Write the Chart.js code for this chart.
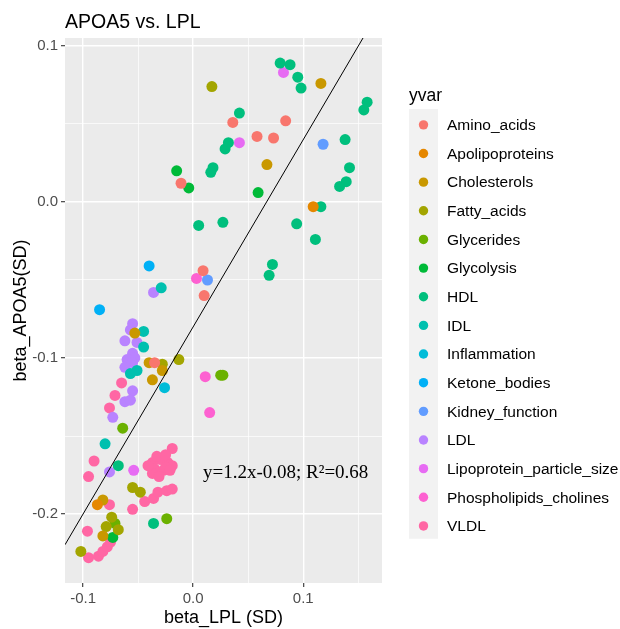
<!DOCTYPE html>
<html>
<head>
<meta charset="utf-8">
<script src="https://cdn.jsdelivr.net/npm/chart.js@4"></script>
<style>
  html, body { margin: 0; padding: 0; background: #FFFFFF; }
  canvas { display: block; }
</style>
</head>
<body>
<canvas id="chart" width="620" height="629"></canvas>
<script>
const TITLE = 'APOA5 vs. LPL';
const X_LABEL = 'beta_LPL (SD)';
const Y_LABEL = 'beta_APOA5(SD)';
const LEGEND_TITLE = 'yvar';
const FIT_TEXT = 'y=1.2x-0.08; R²=0.68';
const FIT_SLOPE = 1.2;
const FIT_INTERCEPT = -0.08;
const FIT_LABEL_AT = [0.084, -0.174]; // where the equation sits, in data units

const X_RANGE = [-0.1164, 0.1715];
const Y_RANGE = [-0.2442, 0.1051];
const X_BREAKS = [-0.1, 0.0, 0.1];
const X_MINOR = [-0.05, 0.05, 0.15];
const Y_BREAKS = [-0.2, -0.1, 0.0, 0.1];
const Y_MINOR = [-0.15, -0.05, 0.05];

const CATEGORIES = ['Amino_acids', 'Apolipoproteins', 'Cholesterols', 'Fatty_acids', 'Glycerides',
  'Glycolysis', 'HDL', 'IDL', 'Inflammation', 'Ketone_bodies', 'Kidney_function', 'LDL',
  'Lipoprotein_particle_size', 'Phospholipids_cholines', 'VLDL'];
// ggplot default hue palette for 15 levels
const COLORS = ['#F8766D', '#E58700', '#C99800', '#A3A500', '#6BB100', '#00BA38', '#00BF7D', '#00C0AF',
  '#00BCD8', '#00B0F6', '#619CFF', '#B983FF', '#E76BF3', '#FD61D1', '#FF67A4'];

// [beta_LPL, beta_APOA5] pairs per group
const AMINO_ACIDS = [[0.036, 0.051], [0.084, 0.052], [0.058, 0.042], [0.073, 0.041], [-0.011, 0.012],
  [0.009, -0.044], [0.010, -0.060], [-0.035, -0.103]];
const APOLIPOPROTEINS = [[0.109, -0.003], [-0.087, -0.194]];
const CHOLESTEROLS = [[0.116, 0.076], [0.067, 0.024], [-0.053, -0.084], [-0.040, -0.103], [-0.028, -0.108],
  [-0.037, -0.114], [-0.082, -0.191], [-0.082, -0.214]];
const FATTY_ACIDS = [[0.017, 0.074], [-0.028, -0.104], [-0.013, -0.101], [-0.055, -0.183], [-0.048, -0.186],
  [-0.102, -0.224], [-0.074, -0.202], [-0.079, -0.208], [-0.068, -0.210]];
const GLYCERIDES = [[0.025, -0.111], [0.027, -0.111], [-0.064, -0.145], [-0.024, -0.203], [-0.071, -0.206]];
const GLYCOLYSIS = [[-0.015, 0.020], [-0.004, 0.009], [0.059, 0.006], [-0.073, -0.215]];
const HDL = [[0.079, 0.089], [0.088, 0.088], [0.095, 0.080], [0.098, 0.073], [0.158, 0.064], [0.155, 0.059],
  [0.042, 0.057], [0.032, 0.038], [0.029, 0.034], [0.138, 0.040], [0.142, 0.022], [0.139, 0.013],
  [0.133, 0.010], [0.018, 0.022], [0.016, 0.019], [0.116, -0.003], [0.005, -0.015], [0.027, -0.013],
  [0.094, -0.014], [0.111, -0.024], [0.072, -0.040], [0.069, -0.047], [-0.068, -0.169], [-0.036, -0.206]];
const IDL = [[-0.029, -0.055], [-0.045, -0.083], [-0.045, -0.093], [-0.057, -0.110], [-0.051, -0.108],
  [-0.080, -0.155]];
const INFLAMMATION = [[-0.026, -0.119]];
const KETONE_BODIES = [[-0.040, -0.041], [-0.085, -0.069]];
const KIDNEY_FUNCTION = [[0.118, 0.037], [0.013, -0.050]];
const LDL = [[-0.036, -0.058], [-0.055, -0.078], [-0.057, -0.082], [-0.062, -0.089], [-0.051, -0.090],
  [-0.055, -0.097], [-0.053, -0.100], [-0.060, -0.101], [-0.055, -0.103], [-0.062, -0.106],
  [-0.055, -0.121], [-0.062, -0.128], [-0.057, -0.127], [-0.073, -0.138], [-0.076, -0.173]];
const LIPOPROTEIN_PARTICLE_SIZE = [[0.082, 0.083], [0.042, 0.038], [-0.054, -0.172]];
const PHOSPHOLIPIDS_CHOLINES = [[0.003, -0.049], [0.011, -0.112], [0.015, -0.135]];
const VLDL = [[-0.065, -0.116], [-0.071, -0.124], [-0.076, -0.132], [-0.090, -0.166], [-0.095, -0.176],
  [-0.019, -0.158], [-0.037, -0.167], [-0.030, -0.165], [-0.023, -0.167], [-0.019, -0.169],
  [-0.035, -0.171], [-0.027, -0.172], [-0.037, -0.174], [-0.025, -0.170], [-0.033, -0.163],
  [-0.025, -0.162], [-0.041, -0.169], [-0.031, -0.176], [-0.021, -0.172], [-0.044, -0.192],
  [-0.036, -0.190], [-0.032, -0.186], [-0.024, -0.185], [-0.019, -0.184], [-0.055, -0.197],
  [-0.076, -0.194], [-0.096, -0.211], [-0.095, -0.228], [-0.086, -0.227], [-0.082, -0.224],
  [-0.078, -0.221], [-0.075, -0.218]];

const SERIES = [AMINO_ACIDS, APOLIPOPROTEINS, CHOLESTEROLS, FATTY_ACIDS, GLYCERIDES, GLYCOLYSIS, HDL, IDL,
  INFLAMMATION, KETONE_BODIES, KIDNEY_FUNCTION, LDL, LIPOPROTEIN_PARTICLE_SIZE, PHOSPHOLIPIDS_CHOLINES, VLDL];

const SANS = '"Liberation Sans", Arial, sans-serif';

function isMajor(v, breaks) {
  return breaks.some(b => Math.abs(b - v) < 1e-9);
}

function axisOptions(range, breaks, minor, fitSize) {
  const all = breaks.concat(minor).sort((a, b) => a - b);
  return {
    type: 'linear',
    min: range[0],
    max: range[1],
    afterBuildTicks: (scale) => { scale.ticks = all.map(v => ({ value: v })); },
    afterFit: fitSize,
    border: { display: false },
    grid: {
      color: '#FFFFFF',
      lineWidth: (ctx) => isMajor(ctx.tick.value, breaks) ? 1.4 : 0.7,
      drawTicks: true,
      tickLength: 4,
      tickWidth: 1.1,
      tickColor: (ctx) => isMajor(ctx.tick.value, breaks) ? '#333333' : 'rgba(0,0,0,0)'
    },
    ticks: {
      autoSkip: false,
      maxRotation: 0,
      color: '#4D4D4D',
      font: { family: SANS, size: 15 },
      callback: (v) => isMajor(v, breaks) ? v.toFixed(1) : ''
    }
  };
}

const panelAndLegend = {
  id: 'panelAndLegend',
  beforeDraw(chart) {
    const { ctx, chartArea: a } = chart;
    ctx.save();
    ctx.fillStyle = '#EBEBEB';
    ctx.fillRect(a.left, a.top, a.right - a.left, a.bottom - a.top);
    ctx.restore();
  },
  afterDraw(chart) {
    const { ctx, chartArea: a, scales } = chart;
    ctx.save();

    // plot title
    ctx.fillStyle = '#000000';
    ctx.font = '19.5px ' + SANS;
    ctx.textAlign = 'left';
    ctx.textBaseline = 'alphabetic';
    ctx.fillText(TITLE, a.left, 28);

    // fitted line equation
    ctx.font = '19px "Liberation Serif", "Times New Roman", serif';
    ctx.textAlign = 'center';
    ctx.textBaseline = 'middle';
    ctx.fillText(FIT_TEXT, scales.x.getPixelForValue(FIT_LABEL_AT[0]), scales.y.getPixelForValue(FIT_LABEL_AT[1]));

    // legend
    const keyX = a.right + 27;
    const keyW = 29;
    const keyH = 28.65;
    const top = 109;
    ctx.textAlign = 'left';
    ctx.textBaseline = 'alphabetic';
    ctx.font = '17.5px ' + SANS;
    ctx.fillText(LEGEND_TITLE, keyX, 101);
    ctx.fillStyle = '#F2F2F2';
    ctx.fillRect(keyX, top, keyW, keyH * CATEGORIES.length);
    ctx.font = '15.5px ' + SANS;
    ctx.textBaseline = 'middle';
    CATEGORIES.forEach((name, i) => {
      const cy = top + keyH * (i + 0.5) + 1.5;
      ctx.fillStyle = COLORS[i];
      ctx.beginPath();
      ctx.arc(keyX + keyW / 2, cy, 4.7, 0, Math.PI * 2);
      ctx.fill();
      ctx.fillStyle = '#000000';
      ctx.fillText(name, keyX + 38, cy + 1);
    });
    ctx.restore();
  }
};

const fitLine = {
  type: 'line',
  label: 'fit',
  data: X_RANGE.map(x => ({ x, y: FIT_SLOPE * x + FIT_INTERCEPT })),
  borderColor: '#000000',
  borderWidth: 1,
  pointRadius: 0,
  fill: false
};

const pointSets = CATEGORIES.map((name, i) => ({
  type: 'scatter',
  label: name,
  data: SERIES[i].map(p => ({ x: p[0], y: p[1] })),
  backgroundColor: COLORS[i],
  borderWidth: 0,
  pointRadius: 5.5,
  pointHoverRadius: 5.5
}));

new Chart(document.getElementById('chart'), {
  type: 'scatter',
  data: { datasets: [fitLine].concat(pointSets) },
  options: {
    responsive: false,
    animation: false,
    layout: { padding: { top: 38, right: 238, bottom: 0, left: 0 } },
    plugins: {
      legend: { display: false },
      title: { display: false },
      tooltip: { enabled: false }
    },
    scales: {
      x: Object.assign(axisOptions(X_RANGE, X_BREAKS, X_MINOR, (s) => { s.height = 46; }), {
        position: 'bottom',
        title: { display: true, text: X_LABEL, color: '#000000', font: { family: SANS, size: 18 }, padding: { top: 0, bottom: 0 } }
      }),
      y: Object.assign(axisOptions(Y_RANGE, Y_BREAKS, Y_MINOR, (s) => { s.width = 65; }), {
        position: 'left',
        title: { display: true, text: Y_LABEL, color: '#000000', font: { family: SANS, size: 18 }, padding: { top: 10, bottom: 0 } }
      })
    }
  },
  plugins: [panelAndLegend]
});
</script>
</body>
</html>
